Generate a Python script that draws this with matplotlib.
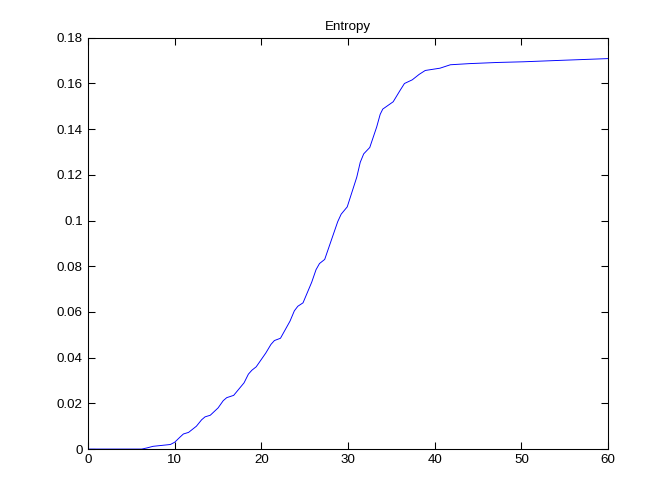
import matplotlib
matplotlib.use('Agg')
import matplotlib.pyplot as plt

# curve
steps = [0, 6.2, 6.8, 7.5, 8.5, 9.5, 10.0, 10.6, 11.0, 11.6, 12.5, 13.1, 13.5, 14.1, 15.0,
         15.6, 16.0, 16.8, 18.0, 18.5, 18.9, 19.4, 20.5, 21.1, 21.5, 22.2, 23.3, 23.8,
         24.2, 24.8, 25.8, 26.3, 26.7, 27.3, 28.3, 28.8, 29.2, 29.9, 31.0, 31.4, 31.8,
         32.5, 33.3, 33.7, 34.0, 35.2, 36.0, 36.5, 37.4, 38.2, 38.9, 40.6, 41.8, 44.0,
         47.2, 50.2, 55.0, 60.0]
entropy = [0, 0, 0.0005, 0.0012, 0.0016, 0.002, 0.003, 0.0052, 0.0066, 0.0073, 0.010,
           0.0128, 0.0141, 0.0148, 0.018, 0.0212, 0.0225, 0.0235, 0.029, 0.0328, 0.0345,
           0.036, 0.042, 0.0458, 0.0475, 0.0485, 0.056, 0.0605, 0.0625, 0.064, 0.073,
           0.0785, 0.0812, 0.083, 0.094, 0.0995, 0.1028, 0.106, 0.119, 0.1255, 0.1292,
           0.132, 0.141, 0.1465, 0.1488, 0.152, 0.157, 0.160, 0.1616, 0.164, 0.1657,
           0.1667, 0.1682, 0.1687, 0.1692, 0.1695, 0.1702, 0.1709]

xticks = [0, 10, 20, 30, 40, 50, 60]
yticks = [0, 0.02, 0.04, 0.06, 0.08, 0.1, 0.12, 0.14, 0.16, 0.18]
ytick_labels = ['0', '0.02', '0.04', '0.06', '0.08', '0.1', '0.12', '0.14', '0.16', '0.18']

plt.rcParams['font.family'] = ['Liberation Sans', 'DejaVu Sans']
plt.rcParams['font.size'] = 10

fig = plt.figure(figsize=(7, 5.25), dpi=96)
ax = fig.add_axes([0.131, 0.109, 0.774, 0.816])
ax.plot(steps, entropy, color='#0000ff', linewidth=0.7)
ax.set_xlim(0, 60)
ax.set_ylim(0, 0.18)
ax.set_xticks(xticks)
ax.set_yticks(yticks)
ax.set_yticklabels(ytick_labels)
ax.tick_params(direction='in', top=True, right=True, length=5, width=0.8, pad=4)
for s in ax.spines.values():
    s.set_linewidth(0.8)
ax.set_title('Entropy', fontsize=10, pad=6)

fig.savefig('out.png', dpi=96, facecolor='white')
